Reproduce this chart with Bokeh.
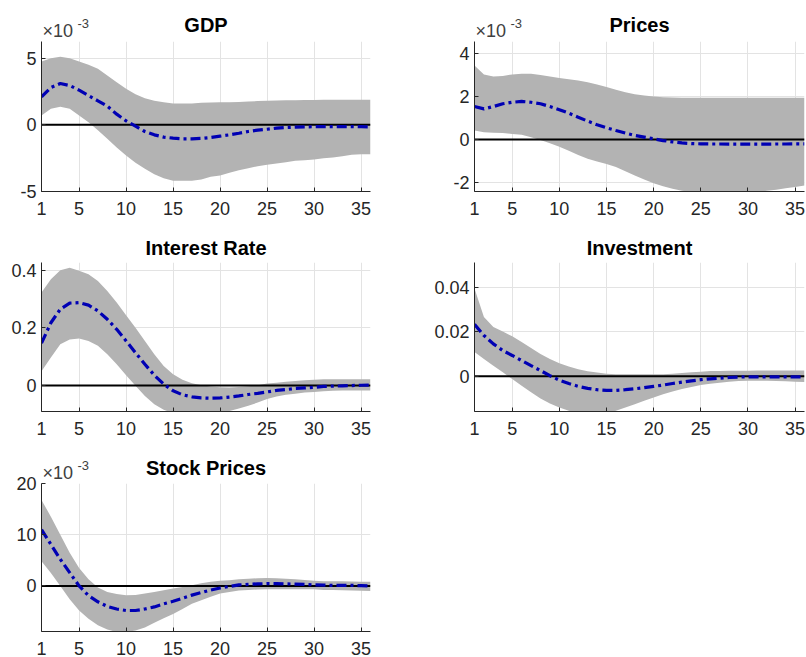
from bokeh.plotting import figure
from bokeh.layouts import column, row
from bokeh.models import Range1d, FixedTicker, Title, Spacer
from bokeh.embed import file_html
from bokeh.resources import INLINE

# horizon (quarters)
steps = list(range(1, 37))
x_ticks = [1, 5, 10, 15, 20, 25, 30, 35]

# GDP response (x 1e-3): median and bands
gdp_med = [2.1, 2.8, 3.1, 2.95, 2.6, 2.2, 1.8, 1.4, 0.8, 0.3, -0.1, -0.5, -0.75, -0.92, -1.0, -1.05,
           -1.05, -1.02, -0.95, -0.85, -0.75, -0.63, -0.5, -0.4, -0.33, -0.25, -0.2, -0.17, -0.15,
           -0.14, -0.13, -0.13, -0.13, -0.13, -0.14, -0.15]
gdp_hi = [4.75, 5.0, 5.1, 5.0, 4.75, 4.5, 4.2, 3.7, 3.2, 2.7, 2.3, 2.0, 1.8, 1.7, 1.6, 1.6, 1.6, 1.65,
          1.68, 1.7, 1.7, 1.72, 1.75, 1.78, 1.8, 1.82, 1.84, 1.85, 1.86, 1.87, 1.88, 1.88, 1.88, 1.88,
          1.88, 1.88]
gdp_lo = [0.7, 1.2, 1.35, 1.2, 0.7, 0.2, -0.4, -1.05, -1.7, -2.3, -2.85, -3.3, -3.7, -4.0, -4.2, -4.2,
          -4.2, -4.1, -3.9, -3.8, -3.6, -3.4, -3.25, -3.1, -3.0, -2.9, -2.8, -2.7, -2.65, -2.6, -2.5,
          -2.45, -2.35, -2.25, -2.2, -2.2]

# Prices response (x 1e-3)
prc_med = [1.54, 1.43, 1.54, 1.67, 1.74, 1.78, 1.74, 1.67, 1.54, 1.39, 1.23, 1.04, 0.86, 0.69, 0.55,
           0.42, 0.30, 0.19, 0.11, 0.03, -0.05, -0.11, -0.16, -0.19, -0.2, -0.21, -0.21, -0.22, -0.22,
           -0.22, -0.22, -0.22, -0.21, -0.21, -0.2, -0.2]
prc_hi = [3.46, 3.04, 2.94, 2.97, 3.04, 3.07, 3.07, 3.02, 2.94, 2.87, 2.82, 2.76, 2.68, 2.57, 2.45,
          2.32, 2.21, 2.12, 2.06, 2.01, 1.98, 1.96, 1.95, 1.95, 1.95, 1.95, 1.95, 1.95, 1.95, 1.95,
          1.95, 1.95, 1.95, 1.95, 1.95, 1.95]
prc_lo = [0.42, 0.34, 0.31, 0.30, 0.26, 0.22, 0.11, -0.02, -0.17, -0.34, -0.53, -0.73, -0.9, -1.03,
          -1.14, -1.29, -1.48, -1.68, -1.87, -2.04, -2.18, -2.3, -2.4, -2.45, -2.48, -2.5, -2.5, -2.5,
          -2.5, -2.48, -2.45, -2.4, -2.35, -2.28, -2.22, -2.15]

# Interest rate response
int_med = [0.147, 0.218, 0.265, 0.286, 0.288, 0.279, 0.259, 0.23, 0.195, 0.155, 0.114, 0.074, 0.036,
           0.005, -0.018, -0.032, -0.039, -0.043, -0.044, -0.043, -0.04, -0.036, -0.031, -0.027,
           -0.022, -0.017, -0.014, -0.01, -0.008, -0.006, -0.003, -0.002, -0.001, 0.0, 0.001, 0.002]
int_hi = [0.323, 0.369, 0.4, 0.409, 0.398, 0.386, 0.363, 0.328, 0.288, 0.244, 0.201, 0.155, 0.109,
          0.068, 0.039, 0.02, 0.008, 0.001, -0.003, -0.006, -0.007, -0.005, -0.002, 0.001, 0.007,
          0.01, 0.013, 0.016, 0.018, 0.02, 0.022, 0.022, 0.022, 0.022, 0.022, 0.022]
int_lo = [0.05, 0.097, 0.143, 0.16, 0.163, 0.155, 0.138, 0.109, 0.074, 0.036, -0.001, -0.036, -0.065,
          -0.084, -0.096, -0.105, -0.108, -0.105, -0.1, -0.094, -0.088, -0.08, -0.07, -0.059, -0.047,
          -0.038, -0.032, -0.028, -0.024, -0.022, -0.02, -0.018, -0.017, -0.017, -0.017, -0.017]

# Investment response
inv_med = [0.0234, 0.0184, 0.0146, 0.0116, 0.0094, 0.0071, 0.0048, 0.0026, 0.0003, -0.0017, -0.0032,
           -0.0045, -0.0054, -0.006, -0.0063, -0.0063, -0.006, -0.0056, -0.0051, -0.0045, -0.0039,
           -0.0032, -0.0026, -0.002, -0.0015, -0.0011, -0.0008, -0.0005, -0.0003, -0.0002, -0.0002,
           -0.0002, -0.0002, -0.0002, -0.0002, -0.0002]
inv_hi = [0.0395, 0.0267, 0.0222, 0.0202, 0.018, 0.0154, 0.0127, 0.0101, 0.0078, 0.0059, 0.0044,
          0.0032, 0.0023, 0.0017, 0.0012, 0.0009, 0.001, 0.001, 0.001, 0.001, 0.001, 0.0012, 0.0015,
          0.0018, 0.0021, 0.0024, 0.0024, 0.0025, 0.0025, 0.0025, 0.0026, 0.0026, 0.0026, 0.0026,
          0.0026, 0.0026]
inv_lo = [0.0109, 0.0078, 0.0048, 0.0018, -0.0012, -0.0042, -0.0072, -0.01, -0.0122, -0.014, -0.0155,
          -0.0166, -0.0172, -0.0172, -0.0168, -0.0155, -0.014, -0.0125, -0.011, -0.0095, -0.008,
          -0.0068, -0.0057, -0.0048, -0.0039, -0.0033, -0.0029, -0.0024, -0.0021, -0.002, -0.002,
          -0.002, -0.0021, -0.0022, -0.0024, -0.0025]

# Stock prices response (x 1e-3)
stk_med = [11.0, 8.1, 5.2, 2.6, 0.0, -1.9, -3.1, -4.0, -4.5, -4.8, -4.8, -4.5, -4.1, -3.5, -3.0, -2.4,
           -1.8, -1.3, -0.8, -0.4, -0.1, 0.2, 0.3, 0.4, 0.45, 0.45, 0.4, 0.35, 0.3, 0.2, 0.15, 0.1,
           0.1, 0.1, 0.05, 0.0]
stk_hi = [16.8, 13.5, 10.0, 6.5, 3.5, 1.3, -0.3, -1.2, -1.6, -1.8, -1.75, -1.5, -1.2, -0.85, -0.5,
          -0.2, 0.15, 0.5, 0.8, 1.0, 1.1, 1.3, 1.4, 1.5, 1.55, 1.5, 1.4, 1.3, 1.15, 1.0, 0.9, 0.9, 0.9,
          0.85, 0.8, 0.8]
stk_lo = [4.8, 2.5, 0.0, -2.6, -4.8, -6.4, -7.7, -8.5, -9.0, -9.0, -8.7, -8.1, -7.2, -6.3, -5.5, -4.5,
          -3.5, -2.8, -2.1, -1.5, -1.2, -0.9, -0.8, -0.7, -0.65, -0.65, -0.65, -0.65, -0.65, -0.65,
          -0.8, -0.8, -0.85, -0.9, -0.95, -1.0]

zeros = [0.0] * len(steps)

FONT = "Liberation Sans"
TICK_COLOR = "#262626"
EXP_COLOR = "#404040"
BAND = "#b3b3b3"
LINE = "#0000b4"


def panel(title, med, lo, hi, y_lim, y_ticks, y_labels, width, height, borders,
          scaled, title_standoff):
    left, right, top, bottom = borders
    p = figure(width=width, height=height, output_backend="svg", toolbar_location=None,
               title=None, x_range=Range1d(1, 36), y_range=Range1d(*y_lim),
               min_border_left=left, min_border_right=right,
               min_border_top=top, min_border_bottom=bottom)
    p.background_fill_color = "white"
    p.border_fill_color = "white"
    p.outline_line_color = None

    if scaled:
        # "×10^-3" exponent note at the top-left corner of the axes
        p.add_layout(Title(text="×10", align="left", offset=1, standoff=1,
                           text_font=FONT, text_font_size="18px", text_font_style="normal",
                           text_color=EXP_COLOR), "above")
        p.add_layout(Title(text="-3", align="left", offset=36, standoff=-19,
                           text_font=FONT, text_font_size="13px", text_font_style="normal",
                           text_color=EXP_COLOR), "above")

    p.add_layout(Title(text=title, align="center", standoff=title_standoff,
                       text_font=FONT, text_font_size="20px", text_font_style="bold",
                       text_color="#000000"), "above")

    p.varea(x=steps, y1=lo, y2=hi, fill_color=BAND, fill_alpha=1.0)
    p.line(x=steps, y=zeros, line_color="black", line_width=2)
    p.line(x=steps, y=med, line_color=LINE, line_width=3.2, line_dash="10 4 3 4")

    p.xaxis.ticker = FixedTicker(ticks=x_ticks)
    p.yaxis.ticker = FixedTicker(ticks=y_ticks)
    p.yaxis.major_label_overrides = {t: s for t, s in zip(y_ticks, y_labels)}
    p.xaxis.major_label_overrides = {t: str(t) for t in x_ticks}
    for ax in (p.xaxis, p.yaxis):
        ax.axis_line_color = TICK_COLOR
        ax.axis_line_width = 1
        ax.major_tick_in = 4
        ax.major_tick_out = 0
        ax.minor_tick_line_color = None
        ax.major_tick_line_color = TICK_COLOR
        ax.major_label_text_font = FONT
        ax.major_label_text_font_size = "18px"
        ax.major_label_text_color = TICK_COLOR
    p.xaxis.major_label_standoff = 10
    p.yaxis.major_label_standoff = 5
    p.xgrid.ticker = FixedTicker(ticks=x_ticks)
    p.ygrid.ticker = FixedTicker(ticks=y_ticks)
    p.xgrid.grid_line_color = "#e3e3e3"
    p.ygrid.grid_line_color = "#e3e3e3"
    return p


LB = (41, 33)   # left/right borders, left column
RB = (71, 2)    # left/right borders, right column

p_gdp = panel("GDP", gdp_med, gdp_lo, gdp_hi, (-5, 6.25), [-5, 0, 5], ["-5", "0", "5"],
              403, 222, (*LB, 41, 31), True, -35)
p_prc = panel("Prices", prc_med, prc_lo, prc_hi, (-2.43, 4.58), [-2, 0, 2, 4], ["-2", "0", "2", "4"],
              403, 222, (*RB, 41, 31), True, -35)
p_int = panel("Interest Rate", int_med, int_lo, int_hi, (-0.09, 0.427), [0, 0.2, 0.4],
              ["0", "0.2", "0.4"], 403, 221, (*LB, 40, 32), False, 8)
p_inv = panel("Investment", inv_med, inv_lo, inv_hi, (-0.0158, 0.0512), [0, 0.02, 0.04],
              ["0", "0.02", "0.04"], 403, 221, (*RB, 40, 32), False, 8)
p_stk = panel("Stock Prices", stk_med, stk_lo, stk_hi, (-8.9, 20), [0, 10, 20], ["0", "10", "20"],
              403, 214, (*LB, 40, 24), True, -36)

layout = column(row(p_gdp, p_prc), row(p_int, p_inv), row(p_stk, Spacer(width=403, height=214)))

open("out.html", "w").write(file_html(layout, INLINE))
